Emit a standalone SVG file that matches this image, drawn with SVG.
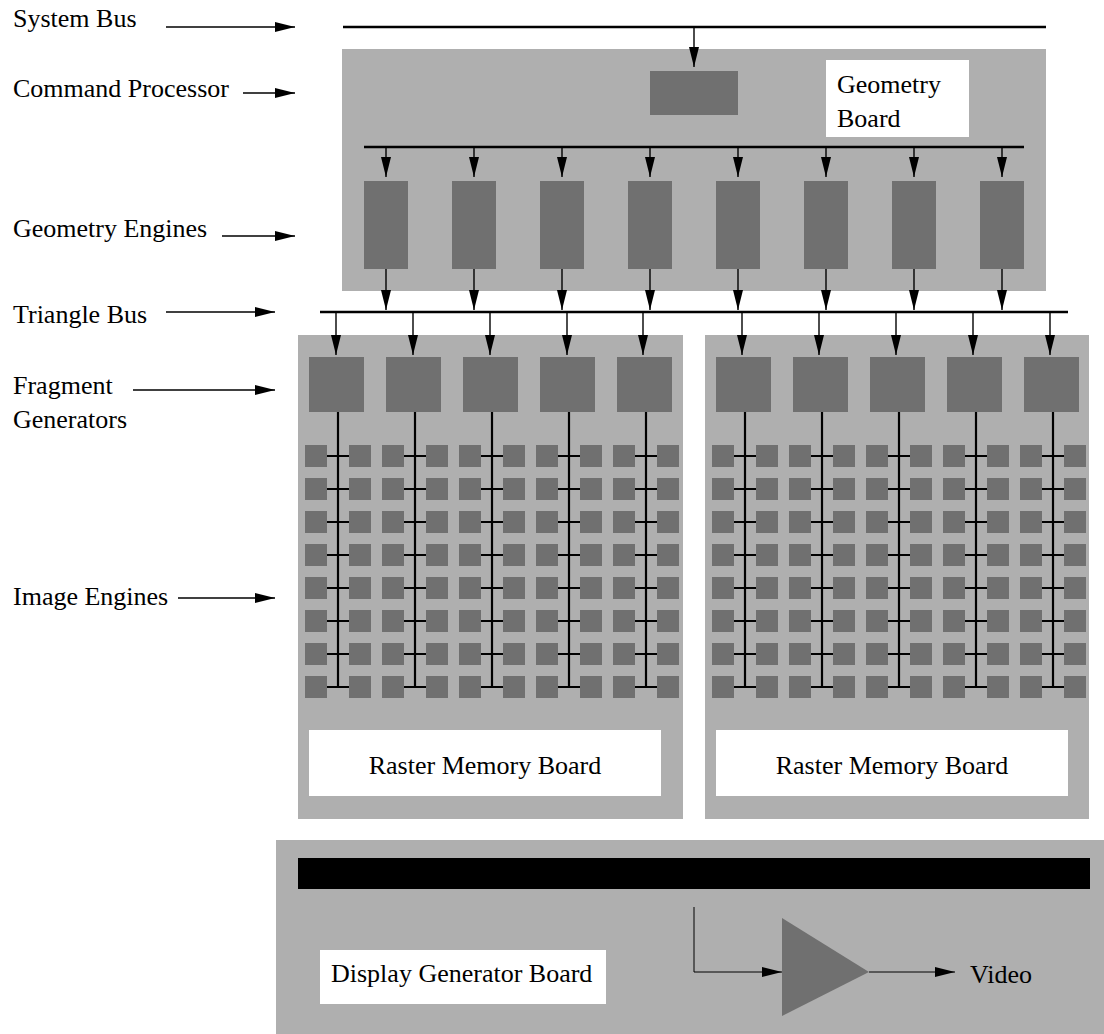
<svg xmlns="http://www.w3.org/2000/svg" xmlns:xlink="http://www.w3.org/1999/xlink" width="1104" height="1034" viewBox="0 0 1104 1034">
<style>
.board{fill:#AFAFAF}
.unit{fill:#707070}
.lbl{fill:#FFFFFF}
text{font-family:"Liberation Serif","Times New Roman",serif;font-size:26px;fill:#000}
.ln{stroke:#000;fill:none;stroke-width:1.4}
.thin{stroke:#000;fill:none;stroke-width:1}
.bus{stroke:#000;fill:none;stroke-width:2.6}
.tick{stroke:#000;fill:none;stroke-width:2.2}
.arr{marker-end:url(#ah)}
</style>
<defs>
<marker id="ah" markerUnits="userSpaceOnUse" markerWidth="20" markerHeight="10" refX="20" refY="5" orient="auto">
<path d="M0,0 L20,5 L0,10 z" fill="#000"/>
</marker>
<g id="iecol" class="unit">
<rect x="0" y="0" width="22" height="22"/><rect x="44" y="0" width="22" height="22"/>
<rect x="0" y="33" width="22" height="22"/><rect x="44" y="33" width="22" height="22"/>
<rect x="0" y="66" width="22" height="22"/><rect x="44" y="66" width="22" height="22"/>
<rect x="0" y="99" width="22" height="22"/><rect x="44" y="99" width="22" height="22"/>
<rect x="0" y="132" width="22" height="22"/><rect x="44" y="132" width="22" height="22"/>
<rect x="0" y="165" width="22" height="22"/><rect x="44" y="165" width="22" height="22"/>
<rect x="0" y="198" width="22" height="22"/><rect x="44" y="198" width="22" height="22"/>
<rect x="0" y="231" width="22" height="22"/><rect x="44" y="231" width="22" height="22"/>
</g>
<g id="iewire">
<path class="tick" d="M33,-33 V242"/>
<path class="tick" d="M22,11 H44 M22,44 H44 M22,77 H44 M22,110 H44 M22,143 H44 M22,176 H44 M22,209 H44 M22,242 H44"/>
</g>
</defs>

<!-- Boards -->
<g id="geometry-board">
<rect class="board" x="342" y="49" width="704" height="242"/>
<rect class="lbl" x="826" y="60" width="143" height="77"/>
<text x="837" y="93">Geometry</text>
<text x="837" y="127">Board</text>
</g>
<g id="raster-board-1">
<rect class="board" x="298" y="335" width="385" height="484"/>
<rect class="lbl" x="309" y="730" width="352" height="66"/>
<text x="485" y="774" text-anchor="middle">Raster Memory Board</text>
</g>
<g id="raster-board-2">
<rect class="board" x="705" y="335" width="384" height="484"/>
<rect class="lbl" x="716" y="730" width="352" height="66"/>
<text x="892" y="774" text-anchor="middle">Raster Memory Board</text>
</g>
<g id="display-board">
<rect class="board" x="276" y="840" width="828" height="194"/>
<rect x="298" y="858" width="792" height="31" fill="#000"/>
<rect class="lbl" x="320" y="950" width="286" height="54"/>
<text x="331" y="982">Display Generator Board</text>
</g>

<!-- Units -->
<g id="command-processor"><rect class="unit" x="650" y="71" width="88" height="44"/></g>
<g id="geometry-engines" class="unit">
<rect x="364" y="181" width="44" height="88"/>
<rect x="452" y="181" width="44" height="88"/>
<rect x="540" y="181" width="44" height="88"/>
<rect x="628" y="181" width="44" height="88"/>
<rect x="716" y="181" width="44" height="88"/>
<rect x="804" y="181" width="44" height="88"/>
<rect x="892" y="181" width="44" height="88"/>
<rect x="980" y="181" width="44" height="88"/>
</g>
<g id="fragment-generators" class="unit">
<rect x="309" y="357" width="55" height="55"/>
<rect x="386" y="357" width="55" height="55"/>
<rect x="463" y="357" width="55" height="55"/>
<rect x="540" y="357" width="55" height="55"/>
<rect x="617" y="357" width="55" height="55"/>
<rect x="716" y="357" width="55" height="55"/>
<rect x="793" y="357" width="55" height="55"/>
<rect x="870" y="357" width="55" height="55"/>
<rect x="947" y="357" width="55" height="55"/>
<rect x="1024" y="357" width="55" height="55"/>
</g>
<g id="image-engines">
<use xlink:href="#iecol" x="305" y="445"/>
<use xlink:href="#iecol" x="382" y="445"/>
<use xlink:href="#iecol" x="459" y="445"/>
<use xlink:href="#iecol" x="536" y="445"/>
<use xlink:href="#iecol" x="613" y="445"/>
<use xlink:href="#iecol" x="712" y="445"/>
<use xlink:href="#iecol" x="789" y="445"/>
<use xlink:href="#iecol" x="866" y="445"/>
<use xlink:href="#iecol" x="943" y="445"/>
<use xlink:href="#iecol" x="1020" y="445"/>
</g>
<g id="amplifier"><polygon class="unit" points="782,918 869,972 782,1016"/></g>

<!-- Connectors -->
<g id="connectors">
<path class="bus" d="M343,27 H1046"/>
<path class="ln arr" d="M694,27 V67"/>
<path class="bus" d="M364,147 H1024"/>
<path class="ln arr" d="M386,147 V177"/>
<path class="ln arr" d="M474,147 V177"/>
<path class="ln arr" d="M562,147 V177"/>
<path class="ln arr" d="M650,147 V177"/>
<path class="ln arr" d="M738,147 V177"/>
<path class="ln arr" d="M826,147 V177"/>
<path class="ln arr" d="M914,147 V177"/>
<path class="ln arr" d="M1002,147 V177"/>
<path class="ln arr" d="M386,269 V310"/>
<path class="ln arr" d="M474,269 V310"/>
<path class="ln arr" d="M562,269 V310"/>
<path class="ln arr" d="M650,269 V310"/>
<path class="ln arr" d="M738,269 V310"/>
<path class="ln arr" d="M826,269 V310"/>
<path class="ln arr" d="M914,269 V310"/>
<path class="ln arr" d="M1002,269 V310"/>
<path class="bus" d="M320,312 H1068"/>
<path class="ln arr" d="M336,313 V355"/>
<path class="ln arr" d="M413,313 V355"/>
<path class="ln arr" d="M490,313 V355"/>
<path class="ln arr" d="M567,313 V355"/>
<path class="ln arr" d="M643,313 V355"/>
<path class="ln arr" d="M742,313 V355"/>
<path class="ln arr" d="M819,313 V355"/>
<path class="ln arr" d="M896,313 V355"/>
<path class="ln arr" d="M973,313 V355"/>
<path class="ln arr" d="M1050,313 V355"/>
<use xlink:href="#iewire" x="305" y="445"/>
<use xlink:href="#iewire" x="382" y="445"/>
<use xlink:href="#iewire" x="459" y="445"/>
<use xlink:href="#iewire" x="536" y="445"/>
<use xlink:href="#iewire" x="613" y="445"/>
<use xlink:href="#iewire" x="712" y="445"/>
<use xlink:href="#iewire" x="789" y="445"/>
<use xlink:href="#iewire" x="866" y="445"/>
<use xlink:href="#iewire" x="943" y="445"/>
<use xlink:href="#iewire" x="1020" y="445"/>
<path class="thin arr" d="M694,907 V972 H782"/>
<path class="thin arr" d="M869,972 H955"/>
<path class="ln arr" d="M166,27 H295"/>
<path class="ln arr" d="M243,93 H295"/>
<path class="ln arr" d="M222,236 H295"/>
<path class="ln arr" d="M166,312 H275"/>
<path class="ln arr" d="M133,390 H275"/>
<path class="ln arr" d="M178,598 H275"/>
</g>

<!-- Side labels -->
<g id="labels">
<text x="13" y="27">System Bus</text>
<text x="13" y="97">Command Processor</text>
<text x="13" y="237">Geometry Engines</text>
<text x="13" y="323">Triangle Bus</text>
<text x="13" y="394">Fragment</text>
<text x="13" y="428">Generators</text>
<text x="13" y="605">Image Engines</text>
<text x="970" y="983">Video</text>
</g>
</svg>
